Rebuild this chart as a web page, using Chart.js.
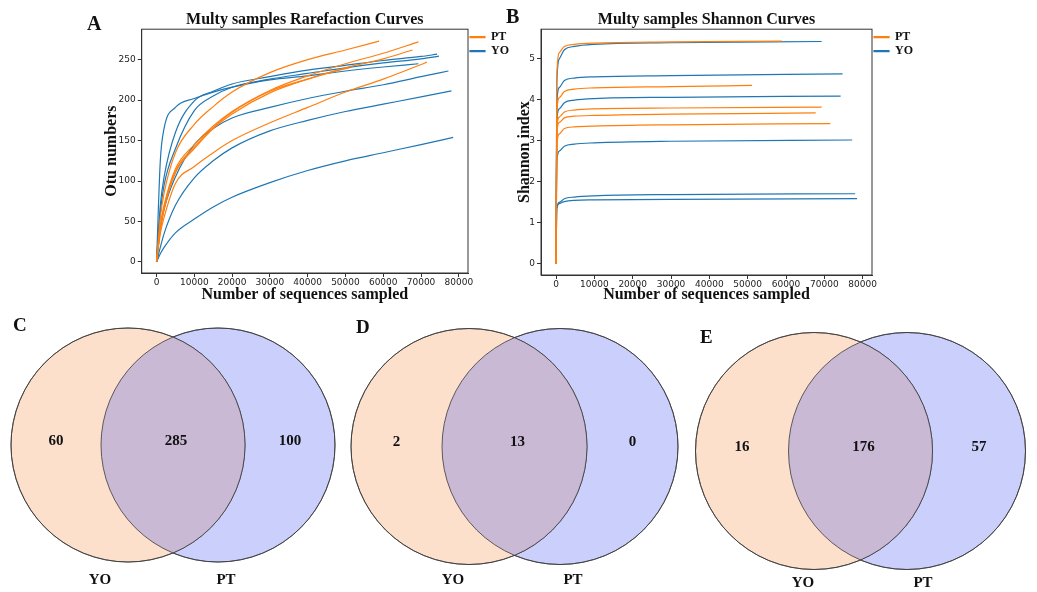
<!DOCTYPE html>
<html lang="en">
<head>
<meta charset="UTF-8">
<title>Rarefaction, Shannon and Venn</title>
<script src="https://cdn.jsdelivr.net/npm/chart.js@4.4.1/dist/chart.umd.min.js"></script>
<style>
  body { margin: 0; background: #fff; }
  #fig { position: relative; width: 1037px; height: 592px; overflow: hidden; }
  #fig canvas { position: absolute; }
  .tag { position: absolute; font: bold 20px/20px "Liberation Serif", serif; color: #111; }
  .tag.small { font-size: 19px; line-height: 19px; }
</style>
</head>
<body>
<div id="fig">
  <canvas id="rare" width="440" height="303" style="left:80px;top:0"></canvas>
  <canvas id="shan" width="423" height="303" style="left:500px;top:0"></canvas>
  <canvas id="vennC" width="340" height="282" style="left:0;top:310px"></canvas>
  <canvas id="vennD" width="340" height="282" style="left:340px;top:310px"></canvas>
  <canvas id="vennE" width="357" height="282" style="left:680px;top:310px"></canvas>
  <div class="tag" style="left:87px;top:13px">A</div>
  <div class="tag" style="left:506px;top:6px">B</div>
  <div class="tag small" style="left:13px;top:315px">C</div>
  <div class="tag small" style="left:356px;top:317px">D</div>
  <div class="tag small" style="left:700px;top:327px">E</div>
</div>

<script>
    const groups = ['PT', 'YO'];
    const xTicks = [0, 10000, 20000, 30000, 40000, 50000, 60000, 70000, 80000];
    const otuTicks = [0, 50, 100, 150, 200, 250];
    const shannonTicks = [0, 1, 2, 3, 4, 5];

    // sequencing depth of each sample, the last point of every curve sits there
    const ptDepth = [58900, 69300, 67740, 51150, 71550];
    const yoDepth = [69300, 74250, 74750, 77250, 78050, 78520];

    // otu numbers read at these depths (plus one final value at the sample depth)
    const rareSteps = [0, 1000, 2000, 5000, 10000, 15000, 20000, 30000, 40000, 50000, 60000, 70000];
    const ptOtu = [
        [0, 55, 85, 135, 170, 192, 210, 234, 250, 262, 273],
        [0, 45, 70, 115, 145, 168, 186, 212, 230, 245, 258, 272],
        [0, 40, 65, 110, 140, 165, 183, 209, 226, 240, 251, 262],
        [0, 42, 68, 112, 142, 166, 185, 211, 226, 239, 240],
        [0, 35, 55, 97, 118, 135, 150, 172, 191, 210, 226, 244, 247]
    ];
    const yoOtu = [
        [0, 125, 165, 191, 202, 210, 216, 225, 230, 236, 241, 245],
        [0, 70, 105, 160, 199, 211, 220, 229, 237, 243, 249, 254, 256.8],
        [0, 60, 95, 140, 187, 205, 216, 226, 233, 240, 246, 251, 254.4],
        [0, 40, 65, 105, 145, 165, 178, 191, 202, 211, 219, 229, 236],
        [0, 18, 35, 70, 104, 125, 141, 162, 175, 186, 195, 204, 211.5],
        [0, 10, 18, 36, 53, 68, 80, 98, 113, 125, 135, 145, 154]
    ];

    const shanSteps = [0, 200, 870, 2170, 4780, 10000, 30000];
    const ptShannon = [
        [0, 4.6, 5.15, 5.3, 5.35, 5.38, 5.41, 5.43],
        [0, 3.3, 3.58, 3.7, 3.75, 3.78, 3.8, 3.82],
        [0, 3.2, 3.45, 3.56, 3.6, 3.62, 3.65, 3.68],
        [0, 3.7, 4.05, 4.2, 4.26, 4.29, 4.32, 4.35],
        [0, 2.9, 3.17, 3.3, 3.34, 3.36, 3.39, 3.42]
    ];
    const yoShannon = [
        [0, 4.4, 5.0, 5.22, 5.3, 5.35, 5.39, 5.42],
        [0, 3.5, 3.78, 3.93, 3.99, 4.03, 4.06, 4.09],
        [0, 3.9, 4.3, 4.47, 4.53, 4.56, 4.59, 4.63],
        [0, 2.5, 2.75, 2.87, 2.92, 2.95, 2.99, 3.02],
        [0, 1.35, 1.5, 1.59, 1.63, 1.66, 1.69, 1.71],
        [0, 1.35, 1.47, 1.52, 1.55, 1.56, 1.575, 1.59]
    ];

    // venn counts: only YO, shared, only PT
    const vennSets = ['YO', 'PT'];
    const vennC = [60, 285, 100];
    const vennD = [2, 13, 0];
    const vennE = [16, 176, 57];

    const colors = { PT: '#ff7f0e', YO: '#1f77b4' };
    const vennFill = ['#fce0cc', '#cad0fb'];
    const lensFill = '#c9b9d5';

    Chart.defaults.font.family = '"DejaVu Sans", sans-serif';
    Chart.defaults.animation = false;
    Chart.defaults.events = [];

    const serifBold = (size, lh) => ({ family: '"Liberation Serif", serif', size: size, weight: 'bold', lineHeight: lh || 1.2 });

    function curves(depths, values, steps, label) {
        return depths.map((depth, i) => {
            const pts = steps.filter(s => s < depth).map((s, j) => ({ x: s, y: values[i][j] }));
            pts.push({ x: depth, y: values[i][values[i].length - 1] });
            return {
                label: label, data: pts,
                borderColor: colors[label], backgroundColor: colors[label],
                borderWidth: 1.2, pointRadius: 0, showLine: true,
                cubicInterpolationMode: 'monotone'
            };
        });
    }

    const frame = {
        id: 'frame',
        afterDraw(chart) {
            const { ctx, chartArea: a } = chart;
            ctx.save();
            ctx.strokeStyle = '#333';
            ctx.lineWidth = 1;
            ctx.strokeRect(a.left, a.top, a.right - a.left, a.bottom - a.top);
            ctx.restore();
        }
    };

    function axis(min, max, ticks, title, fit, pad) {
        return {
            type: 'linear', min: min, max: max,
            afterBuildTicks: s => { s.ticks = ticks.map(v => ({ value: v })); },
            afterFit: fit,
            ticks: { font: { size: 9 }, color: '#222', padding: pad, autoSkip: false, maxRotation: 0, callback: v => String(v) },
            grid: { drawOnChartArea: false, tickLength: 4, color: '#333' },
            border: { color: '#333' },
            title: { display: true, text: title, font: serifBold(16, 1), color: '#111', padding: 0 }
        };
    }

    function lineChart(id, cfg) {
        return new Chart(document.getElementById(id), {
            type: 'scatter',
            data: { datasets: cfg.datasets },
            options: {
                responsive: false,
                layout: { autoPadding: false, padding: { left: cfg.padLeft, right: cfg.padRight, top: 0, bottom: 0 } },
                plugins: {
                    title: { display: true, text: cfg.title, font: serifBold(16), color: '#111', fullSize: false, padding: { top: 10, bottom: 0 } },
                    legend: {
                        position: 'right', align: 'start', fullSize: false,
                        labels: {
                            boxWidth: 15, boxHeight: 1, padding: 2, font: serifBold(12), color: '#111',
                            filter: (item, data) => data.datasets.findIndex(d => d.label === item.text) === item.datasetIndex
                        }
                    },
                    tooltip: { enabled: false }
                },
                scales: {
                    x: axis(-3925, 82435, xTicks, 'Number of sequences sampled', s => { s.height = cfg.xHeight; }, 0),
                    y: axis(cfg.yMin, cfg.yMax, cfg.yTicks, cfg.yTitle, s => { s.width = cfg.yWidth; }, 2)
                }
            },
            plugins: [frame]
        });
    }

    lineChart('rare', {
        title: 'Multy samples Rarefaction Curves',
        datasets: curves(ptDepth, ptOtu, rareSteps, 'PT').concat(curves(yoDepth, yoOtu, rareSteps, 'YO')),
        yMin: -13.7, yMax: 287.7, yTicks: otuTicks, yTitle: 'Otu numbers',
        padLeft: 24, padRight: 1, yWidth: 37.7, xHeight: 30
    });

    lineChart('shan', {
        title: 'Multy samples Shannon Curves',
        datasets: curves(ptDepth, ptShannon, shanSteps, 'PT').concat(curves(yoDepth, yoShannon, shanSteps, 'YO')),
        yMin: -0.27, yMax: 5.72, yTicks: shannonTicks, yTitle: 'Shannon index',
        padLeft: 17, padRight: 0, yWidth: 24, xHeight: 28
    });

    // circle placement inside each venn canvas (canvas pixels)
    const vennLayout = {
        vennC: { cx: [128, 218], cy: 135, r: 117, nameX: [100, 226], nameY: 270 },
        vennD: { cx: [129, 220], cy: 136.5, r: 118, nameX: [113, 233], nameY: 270 },
        vennE: { cx: [134, 227], cy: 141, r: 118.5, nameX: [123, 243], nameY: 273 }
    };

    function venn(id, counts) {
        const canvas = document.getElementById(id);
        const lay = vennLayout[id];
        return new Chart(canvas, {
            type: 'bubble',
            data: {
                datasets: vennSets.map((name, i) => ({
                    label: name,
                    data: [{ x: lay.cx[i], y: lay.cy, r: lay.r }],
                    backgroundColor: vennFill[i], borderColor: '#3a3a3a', borderWidth: 0.8
                }))
            },
            options: {
                responsive: false,
                layout: { autoPadding: false, padding: 0 },
                scales: {
                    x: { type: 'linear', display: false, min: 0, max: canvas.width },
                    y: { type: 'linear', display: false, min: 0, max: canvas.height, reverse: true }
                },
                plugins: { legend: { display: false }, tooltip: { enabled: false } }
            },
            plugins: [{
                id: 'lens',
                afterDatasetsDraw(chart) {
                    const ctx = chart.ctx;
                    const a = chart.getDatasetMeta(0).data[0];
                    const b = chart.getDatasetMeta(1).data[0];
                    const ra = a.options.radius, rb = b.options.radius;
                    ctx.save();
                    ctx.beginPath(); ctx.arc(a.x, a.y, ra, 0, Math.PI * 2); ctx.clip();
                    ctx.beginPath(); ctx.arc(b.x, b.y, rb, 0, Math.PI * 2);
                    ctx.fillStyle = lensFill; ctx.fill();
                    ctx.restore();

                    ctx.save();
                    ctx.strokeStyle = '#3a3a3a'; ctx.lineWidth = 0.8;
                    [[a, ra], [b, rb]].forEach(([p, r]) => {
                        ctx.beginPath(); ctx.arc(p.x, p.y, r, 0, Math.PI * 2); ctx.stroke();
                    });
                    ctx.fillStyle = '#111';
                    ctx.font = 'bold 15px "Liberation Serif", serif';
                    ctx.textAlign = 'center'; ctx.textBaseline = 'middle';
                    const xs = [((a.x - ra) + (b.x - rb)) / 2, ((b.x - rb) + (a.x + ra)) / 2 + 3, ((a.x + ra) + (b.x + rb)) / 2];
                    counts.forEach((c, i) => ctx.fillText(String(c), xs[i], a.y - 4));
                    const sx = chart.scales.x, sy = chart.scales.y;
                    vennSets.forEach((n, i) => ctx.fillText(n, sx.getPixelForValue(lay.nameX[i]), sy.getPixelForValue(lay.nameY)));
                    ctx.restore();
                }
            }]
        });
    }

    venn('vennC', vennC);
    venn('vennD', vennD);
    venn('vennE', vennE);
</script>
</body>
</html>
